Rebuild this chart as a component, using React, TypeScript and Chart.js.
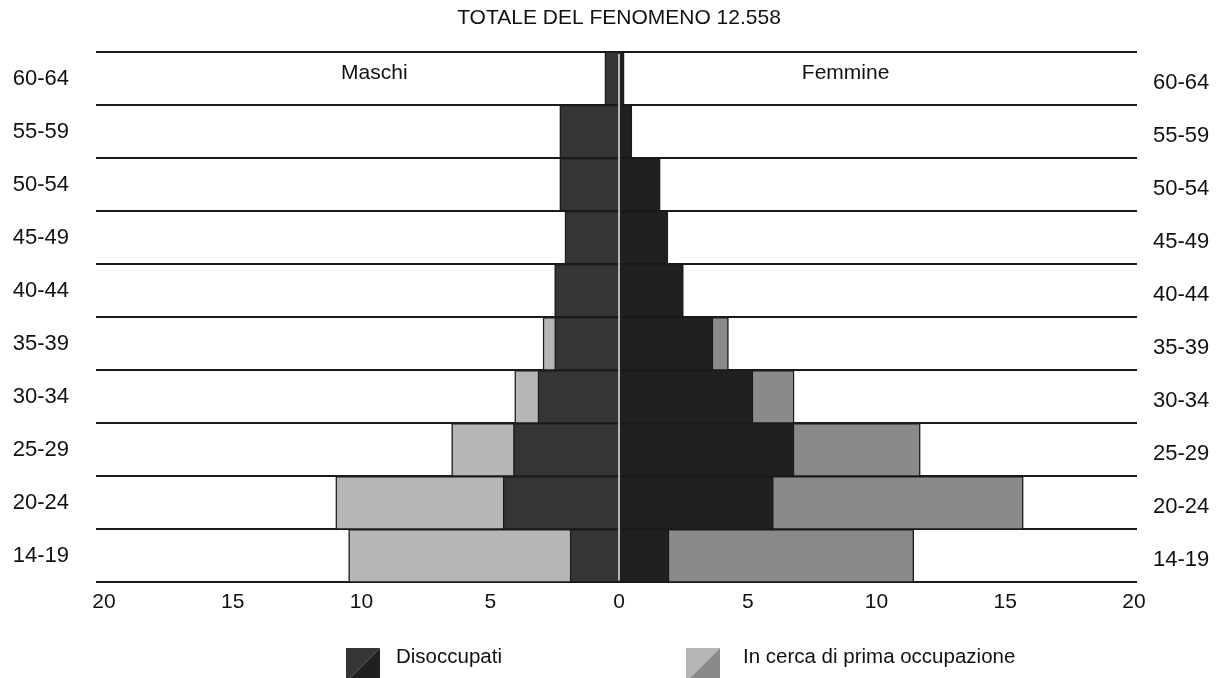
import React, { useEffect, useRef } from 'react';
import { Chart, registerables } from 'chart.js';

Chart.register(...registerables);

// ---- data ----
const ageGroups = ['60-64', '55-59', '50-54', '45-49', '40-44', '35-39', '30-34', '25-29', '20-24', '14-19'];
const maleUnemployed = [0.55, 2.3, 2.3, 2.1, 2.5, 2.5, 3.15, 4.1, 4.5, 1.9];
const maleFirstJob = [0, 0, 0, 0, 0, 0.45, 0.9, 2.4, 6.5, 8.6];
const femaleUnemployed = [0.2, 0.5, 1.6, 1.9, 2.5, 3.65, 5.2, 6.8, 6.0, 1.95];
const femaleFirstJob = [0, 0, 0, 0, 0, 0.6, 1.6, 4.9, 9.7, 9.5];
const xTickLabels = ['20', '15', '10', '5', '0', '5', '10', '15', '20'];
const seriesNames = ['Disoccupati', 'In cerca di prima occupazione'];
const sideLabels = ['Maschi', 'Femmine'];
const titleText = 'TOTALE DEL FENOMENO 12.558';

// ---- styles ----
const FONT = '"Liberation Sans", Arial, Helvetica, sans-serif';
const INK = '#111111';
const MALE_DARK = '#353535';
const FEMALE_DARK = '#202020';
const MALE_LIGHT = '#b6b6b6';
const FEMALE_GRAY = '#8a8a8a';
const BORDER = '#1a1a1a';
const GRID = '#1a1a1a';

const decorPlugin = {
  id: 'decor',
  afterDatasetsDraw(chart: any) {
    const { ctx, chartArea, scales } = chart;
    const x0 = scales.x.getPixelForValue(0);
    ctx.save();
    ctx.strokeStyle = '#e4e4e4';
    ctx.lineWidth = 1.5;
    ctx.beginPath();
    ctx.moveTo(x0, chartArea.top + 2);
    ctx.lineTo(x0, chartArea.bottom - 2);
    ctx.stroke();

    ctx.font = `21px ${FONT}`;
    ctx.fillStyle = INK;
    ctx.textAlign = 'center';
    ctx.textBaseline = 'middle';
    const yRow = scales.y.getPixelForValue(0) - 5;
    ctx.fillText(sideLabels[0], scales.x.getPixelForValue(-9.5), yRow);
    ctx.fillText(sideLabels[1], scales.x.getPixelForValue(8.8), yRow);
    ctx.restore();
  },
  afterDraw(chart: any) {
    const { ctx, chartArea } = chart;
    const cx = (chartArea.left + chartArea.right) / 2;
    const iconTop = chartArea.bottom + 65.5;
    const textY = chartArea.bottom + 74.5;
    const size = 34;
    const items = [
      { left: cx - 273, gap: 50, c1: MALE_DARK, c2: FEMALE_DARK, text: seriesNames[0] },
      { left: cx + 67, gap: 57, c1: MALE_LIGHT, c2: FEMALE_GRAY, text: seriesNames[1] },
    ];
    ctx.save();
    items.forEach((it) => {
      ctx.fillStyle = it.c1;
      ctx.beginPath();
      ctx.moveTo(it.left, iconTop);
      ctx.lineTo(it.left + size, iconTop);
      ctx.lineTo(it.left, iconTop + size);
      ctx.closePath();
      ctx.fill();
      ctx.fillStyle = it.c2;
      ctx.beginPath();
      ctx.moveTo(it.left + size, iconTop);
      ctx.lineTo(it.left + size, iconTop + size);
      ctx.lineTo(it.left, iconTop + size);
      ctx.closePath();
      ctx.fill();
      ctx.font = `20.5px ${FONT}`;
      ctx.fillStyle = INK;
      ctx.textAlign = 'left';
      ctx.textBaseline = 'middle';
      ctx.fillText(it.text, it.left + it.gap, textY);
    });
    ctx.restore();
  },
};

const gridWidth = (c: any) => (c.index === ageGroups.length ? 3 : 2);

export default function App() {
  const ref = useRef<HTMLCanvasElement>(null);

  useEffect(() => {
    const barCommon = {
      borderColor: BORDER,
      borderWidth: 1.5,
      barPercentage: 1,
      categoryPercentage: 1,
      xAxisID: 'x',
      yAxisID: 'y',
    };
    const chart = new Chart(ref.current as HTMLCanvasElement, {
      type: 'bar',
      data: {
        labels: ageGroups,
        datasets: [
          { ...barCommon, label: `${sideLabels[0]} - ${seriesNames[0]}`, data: maleUnemployed.map((v) => -v), backgroundColor: MALE_DARK },
          { ...barCommon, label: `${sideLabels[0]} - ${seriesNames[1]}`, data: maleFirstJob.map((v) => -v), backgroundColor: MALE_LIGHT },
          { ...barCommon, label: `${sideLabels[1]} - ${seriesNames[0]}`, data: femaleUnemployed, backgroundColor: FEMALE_DARK },
          { ...barCommon, label: `${sideLabels[1]} - ${seriesNames[1]}`, data: femaleFirstJob, backgroundColor: FEMALE_GRAY },
        ],
      },
      options: {
        indexAxis: 'y',
        responsive: false,
        animation: false,
        devicePixelRatio: 1,
        layout: { padding: { left: 0, right: 0, top: 0, bottom: 0 } },
        scales: {
          x: {
            type: 'linear',
            min: -20,
            max: 20,
            stacked: true,
            grid: { display: false, drawTicks: false },
            border: { display: false },
            ticks: {
              stepSize: 5,
              padding: 7,
              autoSkip: false,
              maxRotation: 0,
              color: INK,
              font: { family: FONT, size: 21 },
              callback: (_v: any, i: number) => xTickLabels[i],
            },
            afterFit: (s: any) => { s.height = 95.5; },
          },
          y: {
            type: 'category',
            position: 'left',
            stacked: true,
            offset: true,
            grid: { offset: true, color: GRID, lineWidth: gridWidth, drawTicks: true, tickLength: 8 },
            border: { display: false },
            ticks: { padding: 27, color: INK, font: { family: FONT, size: 22 } },
            afterFit: (s: any) => { s.width = 104; },
          },
          y2: {
            type: 'category',
            labels: ageGroups,
            position: 'right',
            offset: true,
            grid: { offset: true, drawOnChartArea: false, color: GRID, lineWidth: gridWidth, drawTicks: true, tickLength: 3 },
            border: { display: false },
            ticks: { padding: 16, labelOffset: 4, color: INK, font: { family: FONT, size: 22 } },
            afterFit: (s: any) => { s.width = 88; },
          },
        },
        plugins: {
          legend: { display: false },
          tooltip: { enabled: false },
          title: {
            display: true,
            text: titleText,
            fullSize: false,
            color: INK,
            font: { family: FONT, size: 21, weight: 'normal' },
            padding: { top: 6, bottom: 20.8 },
          },
        },
      } as any,
      plugins: [decorPlugin],
    });
    return () => chart.destroy();
  }, []);

  return (
    <div style={{ position: 'fixed', left: 0, top: 0, width: 1222, height: 678, background: '#ffffff' }}>
      <canvas ref={ref} width={1222} height={678} style={{ display: 'block' }} />
    </div>
  );
}
